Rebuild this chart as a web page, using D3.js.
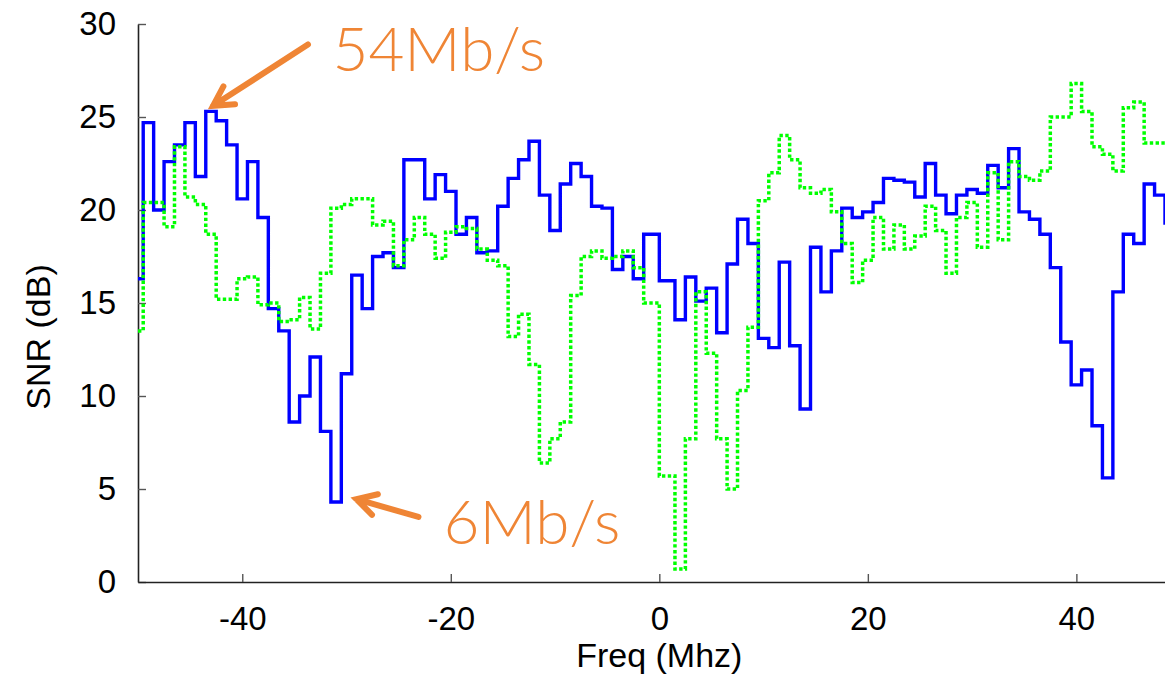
<!DOCTYPE html>
<html>
<head>
<meta charset="utf-8">
<script src="https://cdn.jsdelivr.net/npm/d3@7"></script>
<style>
  body { margin: 0; background: #fff; }
  svg { display: block; }
  .tick-label { font-family: 'Liberation Sans', Arial, sans-serif; font-size: 33px; fill: #000; }
  .axis-title { font-family: 'Liberation Sans', Arial, sans-serif; font-size: 34px; fill: #000; }
  .note { font-family: Lato, 'Noto Sans', sans-serif; font-weight: 300; font-size: 62px; fill: #ef8535; }
</style>
</head>
<body>
<div id="vis"></div>
<script>
/*
 * SNR per frequency bin, two rates (step plot)
 */

// bin centres in MHz (no DC bin)
var freqs = [
  -50, -49, -48, -47, -46, -45, -44, -43, -42, -41,
  -40, -39, -38, -37, -36, -35, -34, -33, -32, -31,
  -30, -29, -28, -27, -26, -25, -24, -23, -22, -21,
  -20, -19, -18, -17, -16, -15, -14, -13, -12, -11,
  -10, -9, -8, -7, -6, -5, -4, -3, -2, -1,
  1, 2, 3, 4, 5, 6, 7, 8, 9, 10,
  11, 12, 13, 14, 15, 16, 17, 18, 19, 20,
  21, 22, 23, 24, 25, 26, 27, 28, 29, 30,
  31, 32, 33, 34, 35, 36, 37, 38, 39, 40,
  41, 42, 43, 44, 45, 46, 47, 48, 49
];

// 54Mb/s link (solid blue)
var snr54 = [
  16.3, 24.7, 20.0, 22.6, 23.5, 24.7, 21.8, 25.3, 24.8, 23.5,
  20.6, 22.6, 19.6, 14.7, 13.5, 8.6, 10.0, 12.1, 8.1, 4.3,
  11.2, 16.5, 14.7, 17.5, 17.7, 16.9, 22.7, 22.7, 20.6, 21.9,
  21.0, 18.7, 19.6, 17.7, 17.8, 20.2, 21.7, 22.7, 23.7, 20.8,
  18.9, 21.4, 22.5, 21.8, 20.2, 20.1, 16.8, 17.5, 16.3, 18.7,
  16.2, 14.1, 16.4, 15.1, 15.8, 13.4, 17.1, 19.5, 18.2, 13.1,
  12.6, 17.2, 12.7, 9.3, 18.0, 15.6, 17.8, 20.1, 19.6, 19.9,
  20.4, 21.7, 21.6, 21.5, 20.7, 22.5, 20.8, 19.8, 20.8, 21.1,
  20.9, 22.4, 21.2, 23.3, 19.9, 19.5, 18.7, 16.9, 12.9, 10.6,
  11.4, 8.4, 5.6, 15.6, 18.7, 18.2, 21.4, 20.8, 19.3
];

// 6Mb/s link (dotted green)
var snr6 = [
  13.5, 20.4, 20.4, 19.1, 23.4, 20.7, 20.3, 18.7, 15.2, 15.2,
  16.3, 16.4, 14.9, 15.0, 14.0, 14.1, 15.3, 13.6, 16.6, 20.1,
  20.3, 20.6, 20.6, 19.2, 19.4, 17.0, 18.4, 19.6, 18.7, 17.4,
  18.8, 19.1, 19.0, 17.9, 17.3, 17.0, 13.2, 14.4, 11.7, 6.4,
  7.7, 8.6, 15.4, 17.5, 17.8, 17.4, 17.5, 17.8, 16.9, 15.0,
  5.7, 0.7, 7.7, 15.6, 12.3, 7.7, 5.0, 10.3, 13.7, 20.5,
  22.0, 24.0, 22.7, 21.2, 20.9, 21.1, 19.9, 18.2, 16.1, 17.3,
  19.6, 17.9, 19.2, 17.9, 18.6, 20.2, 18.9, 16.6, 19.6, 20.4,
  18.0, 22.0, 18.4, 22.6, 21.8, 21.6, 22.1, 25.0, 25.0, 26.8,
  25.3, 23.4, 23.0, 22.1, 25.5, 25.8, 23.6, 23.6, 23.5
];

var xTicks = [-40, -20, 0, 20, 40];
var yTicks = [0, 5, 10, 15, 20, 25, 30];

// annotations: label, text anchor (MHz, dB), arrow tail and tip (MHz, dB)
var notes = [
  { label: '54Mb/s', at: [-31.35, 27.45], tail: [-33.7, 28.9], tip: [-42.8, 25.6] },
  { label: '6Mb/s', at: [-20.7, 2.05], tail: [-23.1, 3.5], tip: [-29.05, 4.45] }
];

var width = 1165;
var height = 677;
var margin = { left: 138, right: 0, top: 24, bottom: 95 };

var svg = d3.select('#vis').append('svg')
  .attr('width', width)
  .attr('height', height);

var x = d3.scaleLinear()
  .domain([-50, 48.5])
  .range([margin.left, width - margin.right]);

var y = d3.scaleLinear()
  .domain([0, 30])
  .range([height - margin.bottom, margin.top]);

svg.append('clipPath')
  .attr('id', 'plot-clip')
  .append('rect')
  .attr('x', x(-50))
  .attr('y', 0)
  .attr('width', x(48.5) - x(-50))
  .attr('height', height);

// axes (left + bottom, inward ticks)
var yAxis = d3.axisLeft(y).tickValues(yTicks).tickSizeInner(-8).tickSizeOuter(0).tickPadding(22);
var xAxis = d3.axisBottom(x).tickValues(xTicks).tickSizeInner(-8).tickSizeOuter(0)
  .tickFormat(function (d) { return String(d); });

var gy = svg.append('g')
  .attr('transform', 'translate(' + margin.left + ',0)')
  .call(yAxis);
var gx = svg.append('g')
  .attr('transform', 'translate(0,' + (height - margin.bottom) + ')')
  .call(xAxis);

[gx, gy].forEach(function (g) {
  g.select('.domain').attr('stroke', '#222').attr('stroke-width', 1.6);
  g.selectAll('.tick line').attr('stroke', '#555').attr('stroke-width', 1.4);
  g.selectAll('.tick text').attr('class', 'tick-label').attr('font-family', null).attr('font-size', null);
});
gx.selectAll('.tick text').attr('dy', '0.35em').attr('y', 36);

svg.append('text')
  .attr('class', 'axis-title')
  .attr('text-anchor', 'middle')
  .attr('x', x(0))
  .attr('y', 667)
  .text('Freq (Mhz)');

svg.append('text')
  .attr('class', 'axis-title')
  .attr('text-anchor', 'middle')
  .attr('transform', 'translate(50,337) rotate(-90)')
  .text('SNR (dB)');

// step lines
var line = d3.line()
  .curve(d3.curveStep)
  .x(function (d) { return x(d[0]); })
  .y(function (d) { return y(d[1]); });

var plot = svg.append('g').attr('clip-path', 'url(#plot-clip)');

plot.append('path')
  .datum(d3.zip(freqs, snr54))
  .attr('d', line)
  .attr('fill', 'none')
  .attr('stroke', '#0000ff')
  .attr('stroke-width', 3.4)
  .attr('stroke-linejoin', 'miter');

plot.append('path')
  .datum(d3.zip(freqs, snr6))
  .attr('d', line)
  .attr('fill', 'none')
  .attr('stroke', '#00ff00')
  .attr('stroke-width', 3.5)
  .attr('stroke-dasharray', '3.4,2.4');

// orange annotations
function arrowPath(n) {
  var x0 = x(n.tail[0]), y0 = y(n.tail[1]);
  var x1 = x(n.tip[0]), y1 = y(n.tip[1]);
  var ang = Math.atan2(y0 - y1, x0 - x1);
  var len = 22, spread = Math.PI / 6.2;
  var p = d3.path();
  p.moveTo(x0, y0);
  p.lineTo(x1, y1);
  p.moveTo(x1 + len * Math.cos(ang - spread), y1 + len * Math.sin(ang - spread));
  p.lineTo(x1, y1);
  p.lineTo(x1 + len * Math.cos(ang + spread), y1 + len * Math.sin(ang + spread));
  return p.toString();
}

var g = svg.append('g').selectAll('.note')
  .data(notes)
  .enter().append('g');

g.append('path')
  .attr('d', arrowPath)
  .attr('fill', 'none')
  .attr('stroke', '#ef8535')
  .attr('stroke-width', 6)
  .attr('stroke-linecap', 'round')
  .attr('stroke-linejoin', 'miter');

g.append('text')
  .attr('class', 'note')
  .attr('x', function (d) { return x(d.at[0]); })
  .attr('y', function (d) { return y(d.at[1]); })
  .text(function (d) { return d.label; });
</script>
</body>
</html>
